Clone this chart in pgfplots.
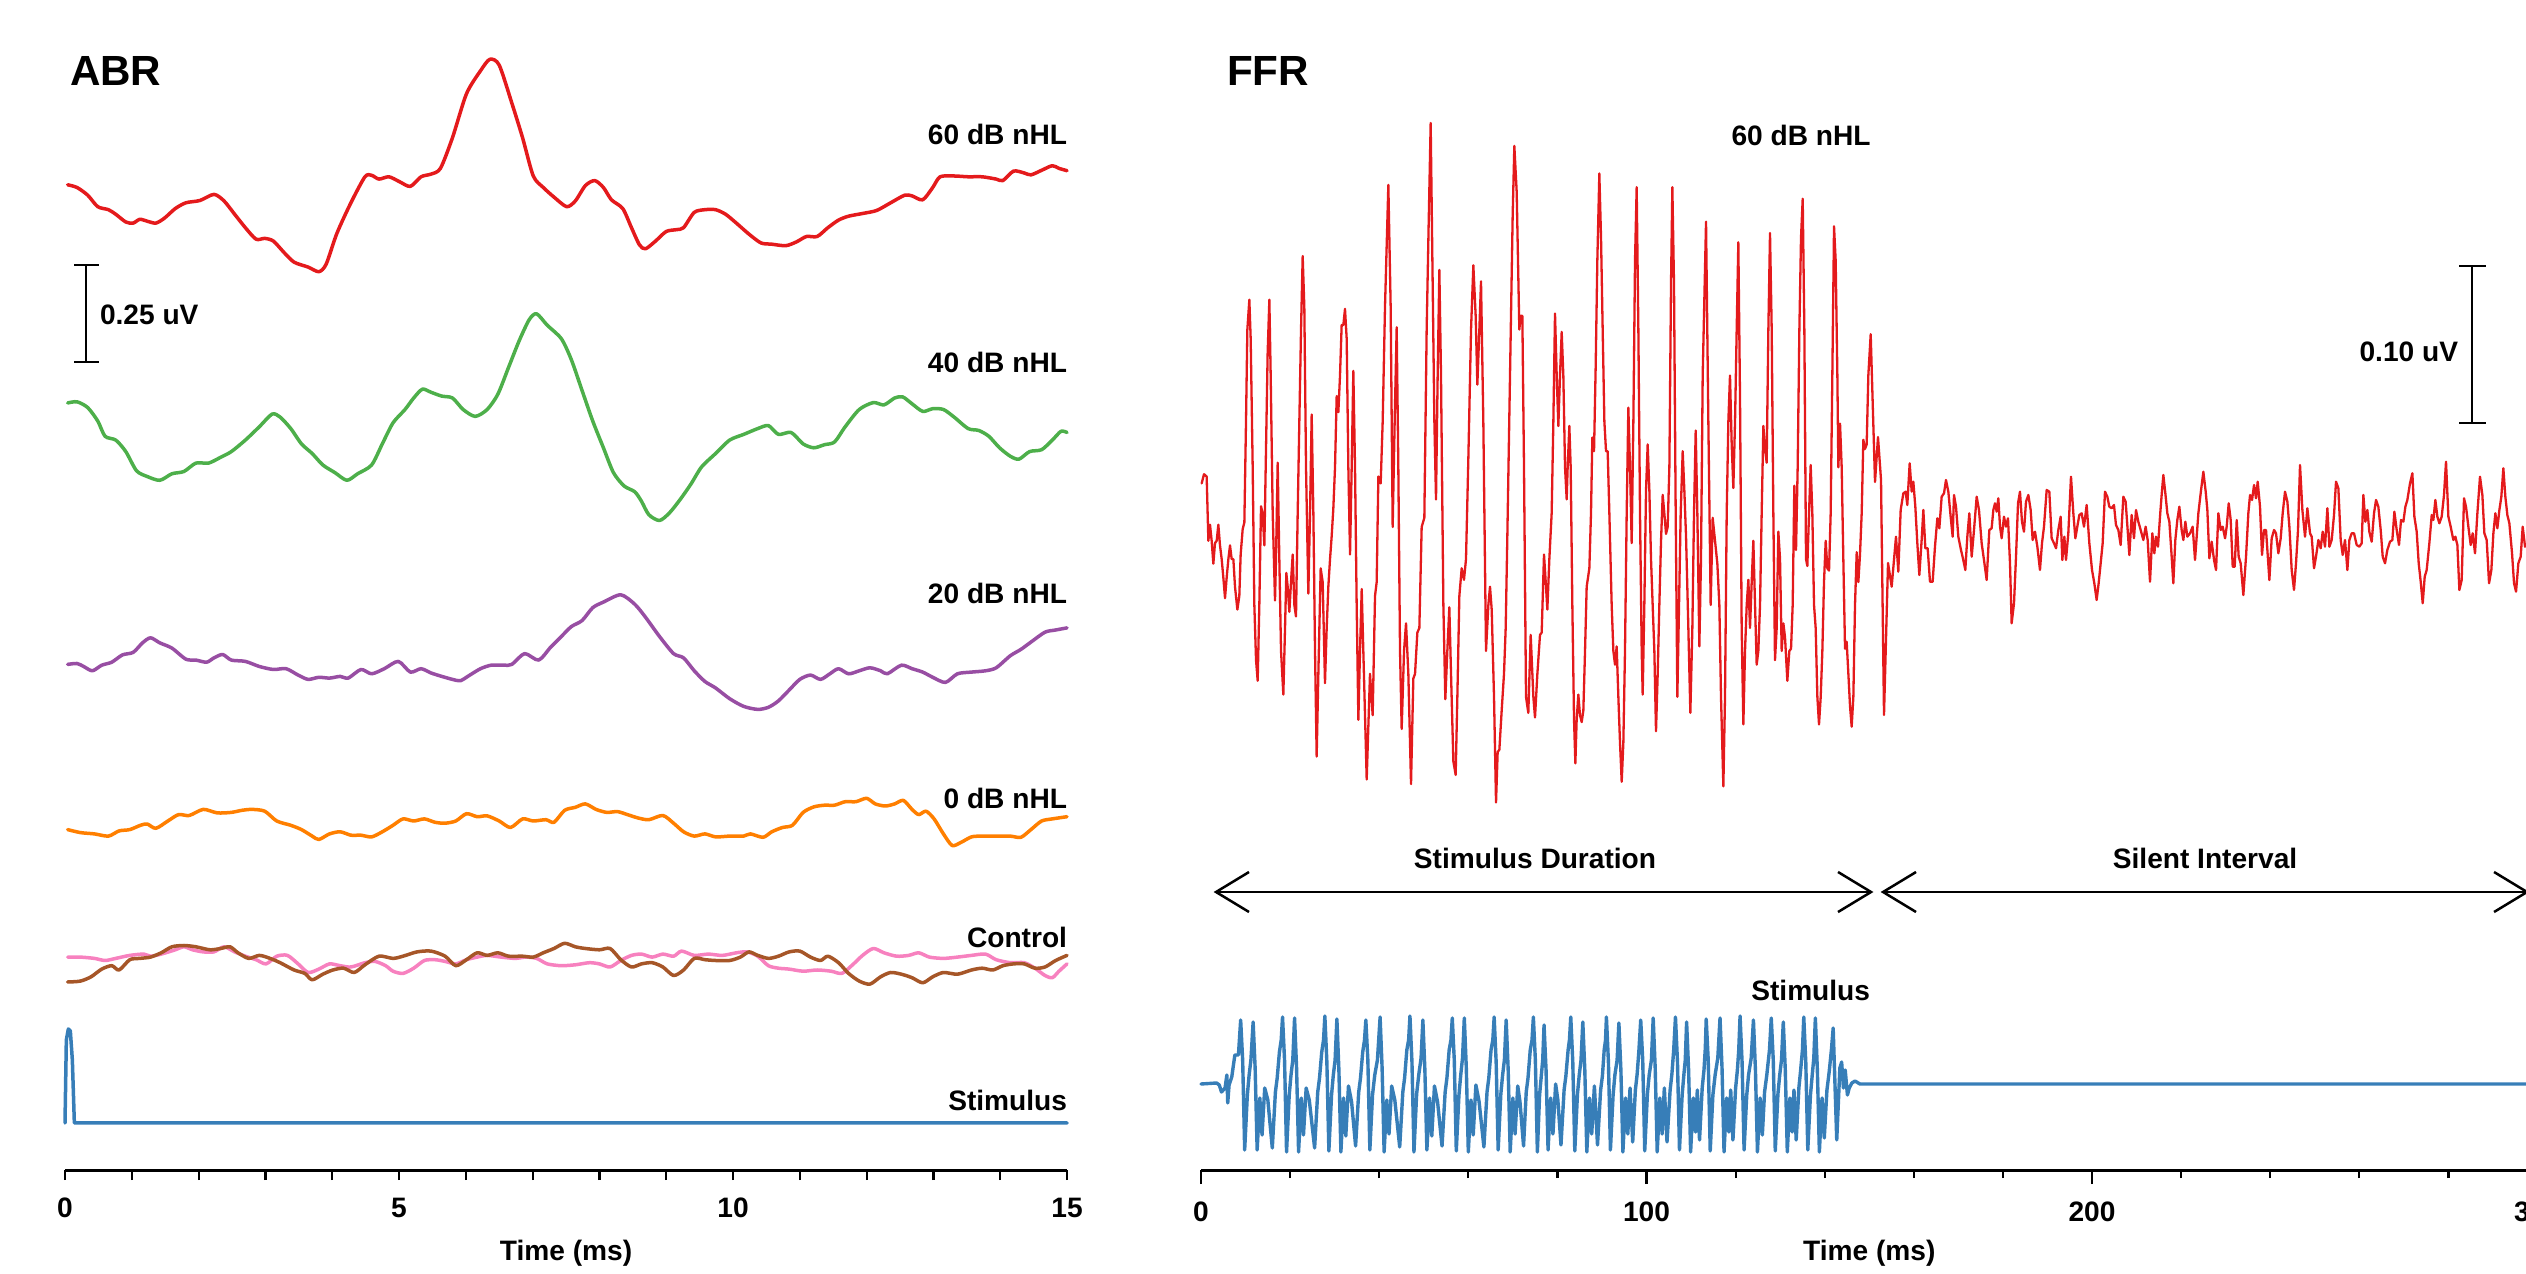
\documentclass[border=0pt]{standalone}
\usepackage{fontspec}
\setmainfont{Liberation Sans}
\usepackage{pgfplots}
\pgfplotsset{compat=1.18}
\definecolor{sred}{HTML}{E41A1C}
\definecolor{sblue}{HTML}{377EB8}
\definecolor{sgreen}{HTML}{4DAF4A}
\definecolor{spurple}{HTML}{984EA3}
\definecolor{sorange}{HTML}{FF7F00}
\definecolor{sbrown}{HTML}{A65628}
\definecolor{spink}{HTML}{F781BF}
\begin{document}
\begin{tikzpicture}
\pgfplotsset{
  myax/.style={scale only axis, height=117mm, ymin=-1170, ymax=0,
    hide y axis, axis x line*=bottom, clip=false,
    x axis line style={line width=0.3mm,-},
    tick align=outside, xtick pos=left,
    every tick/.style={black, line width=0.22mm},
    /pgf/number format/assume math mode=true,
    xticklabel style={font=\fontsize{8}{9.6}\selectfont\bfseries, anchor=base, yshift=-3.75mm},
    xlabel={Time (ms)},
    xlabel style={font=\fontsize{8}{9.6}\selectfont\bfseries, at={(axis description cs:0.5,0)}, anchor=base, yshift=-9.0mm},
    every axis plot/.append style={line join=round, line cap=round}},
  abr/.style={line width=0.35mm, smooth, tension=0.45},
}
% ---------------- ABR ----------------
\begin{axis}[myax, at={(6.5mm,10.3mm)}, anchor=south west, width=100.2mm,
  xmin=0, xmax=15, xtick={0,5,10,15}, minor xtick={1,2,3,4,6,7,8,9,11,12,13,14},
  major tick length=1.0mm, minor tick length=1.0mm]
% 60 dB nHL
\addplot[sred, abr] table[x index=0, y expr=-\thisrowno{1}] {
0.04 184.8
0.18 187.5
0.34 195.2
0.49 206.7
0.65 209.7
0.76 214.3
0.91 222.0
1.02 223.1
1.12 219.3
1.23 221.2
1.36 223.1
1.49 218.1
1.65 208.6
1.81 202.8
2.02 200.5
2.23 194.4
2.38 200.9
2.54 214.3
2.70 227.7
2.86 239.2
2.99 238.4
3.12 241.1
3.28 252.6
3.43 262.2
3.64 267.1
3.80 271.7
3.91 264.1
4.07 233.4
4.28 202.8
4.49 176.8
4.59 175.3
4.70 179.1
4.85 176.8
5.01 181.8
5.17 186.4
5.33 176.8
5.48 174.1
5.62 168.4
5.80 137.8
6.01 93.8
6.22 70.8
6.36 59.3
6.50 65.1
6.69 103.3
6.85 137.8
7.01 176.0
7.16 187.5
7.32 197.1
7.51 206.7
7.64 200.9
7.79 185.6
7.93 180.6
8.06 187.5
8.18 199.8
8.35 208.6
8.48 227.7
8.60 244.9
8.69 248.8
8.84 241.1
9.00 231.5
9.16 229.6
9.26 227.7
9.42 212.4
9.58 209.7
9.74 209.7
9.89 214.3
10.05 223.1
10.24 234.2
10.42 243.0
10.58 244.2
10.79 245.7
10.95 241.9
11.10 236.5
11.26 236.5
11.42 227.7
11.58 220.1
11.73 216.2
11.94 213.5
12.15 210.5
12.36 202.8
12.57 195.2
12.68 195.9
12.84 199.8
12.99 187.5
13.10 176.8
13.31 176.0
13.52 176.8
13.73 176.8
13.94 179.1
14.04 180.6
14.20 171.1
14.36 173.0
14.46 174.9
14.62 170.3
14.78 165.7
14.88 168.4
15.00 170.7
};
% 40 dB nHL
\addplot[sgreen, abr] table[x index=0, y expr=-\thisrowno{1}] {
0.04 403.0
0.18 401.8
0.34 407.6
0.49 421.0
0.60 436.3
0.76 440.1
0.91 451.6
1.07 470.7
1.23 476.5
1.42 480.3
1.60 473.8
1.78 471.5
1.96 463.1
2.15 463.1
2.33 457.3
2.49 451.6
2.70 440.1
2.91 426.7
3.10 414.1
3.22 417.1
3.38 428.6
3.54 443.9
3.70 453.5
3.86 465.0
4.04 472.6
4.22 480.3
4.38 473.8
4.59 465.0
4.75 443.9
4.91 422.9
5.09 409.5
5.22 398.0
5.35 389.2
5.48 392.3
5.64 396.1
5.80 398.0
5.96 409.5
6.14 416.4
6.32 409.5
6.48 394.2
6.64 367.4
6.80 340.6
6.95 319.6
7.06 313.8
7.22 325.3
7.43 338.7
7.58 359.7
7.74 390.4
7.90 421.0
8.06 447.8
8.21 472.6
8.37 486.0
8.53 491.8
8.63 501.3
8.74 514.7
8.90 520.5
9.05 512.8
9.21 499.4
9.37 484.1
9.53 466.9
9.74 453.5
9.95 440.1
10.16 434.4
10.37 428.6
10.53 425.6
10.68 434.4
10.87 432.5
11.05 443.9
11.21 447.8
11.37 444.7
11.52 442.0
11.68 426.7
11.89 409.5
12.10 402.6
12.26 404.9
12.42 398.0
12.54 396.9
12.68 403.8
12.84 411.4
12.99 408.7
13.15 409.5
13.31 417.1
13.52 428.6
13.68 430.5
13.83 436.3
13.99 447.8
14.15 456.2
14.28 459.2
14.44 451.6
14.62 449.7
14.78 440.1
14.91 431.3
15.00 432.5
};
% 20 dB nHL
\addplot[spurple, abr] table[x index=0, y expr=-\thisrowno{1}] {
0.04 664.4
0.18 663.5
0.28 666.5
0.41 670.8
0.55 665.2
0.70 662.2
0.86 654.9
1.02 652.4
1.16 642.9
1.28 637.8
1.42 642.9
1.60 648.1
1.81 659.2
1.96 660.1
2.12 662.2
2.23 657.9
2.36 654.5
2.49 660.1
2.70 661.4
2.91 666.5
3.12 669.5
3.31 668.7
3.49 675.1
3.64 679.4
3.80 677.3
3.96 678.1
4.12 676.4
4.24 678.1
4.43 669.5
4.59 673.8
4.78 668.7
4.99 661.4
5.17 672.1
5.33 668.7
5.48 673.0
5.64 676.4
5.80 679.4
5.92 680.7
6.06 675.1
6.22 668.7
6.38 665.2
6.57 665.2
6.69 664.4
6.88 653.6
7.09 660.1
7.27 647.2
7.43 636.5
7.58 626.6
7.74 620.6
7.90 607.7
8.06 602.1
8.32 594.8
8.53 604.3
8.69 617.2
8.90 636.5
9.11 653.6
9.26 657.9
9.42 670.8
9.58 681.5
9.74 688.0
9.95 698.7
10.16 706.4
10.37 709.4
10.53 707.3
10.68 700.9
10.84 690.1
11.00 679.4
11.16 675.1
11.31 679.4
11.45 673.8
11.58 668.7
11.73 673.8
11.89 670.8
12.05 667.8
12.21 670.8
12.31 673.8
12.52 665.2
12.68 668.7
12.84 672.1
12.99 677.3
13.18 682.4
13.36 673.8
13.57 672.1
13.78 670.8
13.94 667.8
14.15 655.8
14.31 649.4
14.46 642.1
14.67 632.2
14.83 630.0
15.00 627.9
};
% 0 dB nHL
\addplot[sorange, abr] table[x index=0, y expr=-\thisrowno{1}] {
0.04 829.6
0.23 832.6
0.44 833.9
0.65 836.1
0.81 830.9
0.97 829.6
1.13 825.3
1.23 824.0
1.36 828.3
1.54 821.0
1.70 814.6
1.86 815.5
2.07 809.4
2.28 812.9
2.49 812.4
2.65 810.3
2.80 809.4
2.99 811.2
3.17 821.0
3.38 825.3
3.54 829.6
3.70 836.1
3.80 839.5
3.96 833.9
4.12 831.8
4.28 835.2
4.43 835.2
4.59 836.9
4.75 831.8
4.91 825.3
5.06 818.9
5.22 821.0
5.38 818.9
5.54 822.3
5.69 823.2
5.85 821.0
6.01 813.7
6.17 816.7
6.32 815.9
6.50 821.0
6.67 827.5
6.85 818.9
7.01 821.0
7.20 819.7
7.32 822.3
7.48 810.3
7.64 807.3
7.79 803.9
7.95 809.4
8.11 812.4
8.27 811.6
8.42 814.6
8.58 818.0
8.74 819.7
8.95 815.5
9.11 823.2
9.26 831.8
9.42 836.1
9.58 833.9
9.74 836.9
9.95 836.1
10.16 836.1
10.26 833.9
10.45 837.3
10.58 831.8
10.74 827.5
10.89 825.3
11.05 812.4
11.21 806.9
11.37 805.2
11.52 805.2
11.68 801.7
11.84 801.7
12.00 798.3
12.13 803.9
12.28 806.0
12.42 803.9
12.55 800.4
12.68 809.4
12.78 814.6
12.89 811.2
13.01 818.9
13.15 833.9
13.28 845.5
13.41 842.5
13.57 836.9
13.73 836.1
13.94 836.1
14.15 836.1
14.31 837.3
14.46 829.6
14.62 821.0
14.78 818.9
15.00 816.7
};
% Control (pink)
\addplot[spink, abr] table[x index=0, y expr=-\thisrowno{1}] {
0.04 957.1
0.23 957.1
0.44 958.4
0.60 960.5
0.76 958.4
0.97 955.4
1.18 954.1
1.28 956.2
1.44 954.1
1.65 949.8
1.78 946.8
1.91 949.8
2.07 951.9
2.23 951.9
2.38 946.8
2.54 951.9
2.70 956.2
2.86 959.7
3.01 963.9
3.17 956.2
3.33 955.4
3.49 963.9
3.64 972.5
3.80 969.1
3.96 963.9
4.12 965.7
4.28 967.0
4.49 962.7
4.64 961.4
4.80 965.7
4.91 971.2
5.06 973.4
5.22 968.2
5.38 960.5
5.54 959.7
5.69 961.4
5.85 963.9
6.01 959.7
6.17 957.1
6.32 955.4
6.53 957.1
6.74 958.4
6.90 957.1
7.06 958.4
7.22 963.9
7.43 965.7
7.64 964.8
7.85 962.7
8.00 963.9
8.16 967.0
8.32 960.5
8.48 955.4
8.63 954.1
8.79 957.1
8.95 954.1
9.11 956.2
9.23 951.1
9.42 955.4
9.63 954.1
9.84 955.4
10.05 952.8
10.21 951.9
10.37 956.2
10.53 965.7
10.68 968.2
10.84 969.1
11.05 971.2
11.26 970.0
11.47 971.2
11.63 973.4
11.79 964.8
11.94 955.4
12.10 948.5
12.26 952.8
12.45 956.2
12.63 955.4
12.78 952.8
12.94 957.1
13.15 958.4
13.36 957.1
13.57 955.4
13.78 954.1
13.94 959.7
14.15 962.7
14.36 962.7
14.52 968.2
14.67 975.5
14.78 977.7
14.88 971.2
15.00 963.9
};
% Control (brown)
\addplot[sbrown, abr] table[x index=0, y expr=-\thisrowno{1}] {
0.04 982.0
0.23 981.1
0.39 976.8
0.55 969.1
0.70 965.7
0.81 970.0
0.97 959.7
1.12 958.4
1.28 957.1
1.44 952.8
1.60 946.8
1.78 945.5
1.96 946.8
2.17 949.8
2.33 948.5
2.47 946.8
2.59 952.8
2.75 958.4
2.91 955.4
3.07 958.4
3.22 962.7
3.43 970.0
3.59 973.4
3.70 979.8
3.86 974.2
4.01 970.0
4.17 968.2
4.33 972.5
4.49 964.8
4.70 956.2
4.91 958.4
5.06 956.2
5.27 951.9
5.48 951.1
5.69 956.2
5.85 965.7
6.01 959.7
6.17 952.8
6.32 955.4
6.48 952.8
6.64 956.2
6.85 956.2
7.01 957.1
7.16 952.8
7.32 948.5
7.48 943.3
7.64 946.8
7.79 948.5
8.00 949.8
8.16 948.5
8.32 959.7
8.48 967.0
8.63 963.9
8.79 962.7
8.95 967.0
9.11 975.5
9.26 970.0
9.42 958.4
9.58 959.7
9.74 960.5
9.95 960.5
10.11 957.1
10.24 951.9
10.37 955.4
10.53 958.4
10.68 956.2
10.84 951.9
11.00 951.1
11.16 957.1
11.31 960.5
11.42 956.2
11.58 962.7
11.73 973.4
11.89 981.1
12.05 984.1
12.21 976.8
12.36 972.5
12.52 974.2
12.68 977.7
12.84 982.8
12.99 976.8
13.15 972.5
13.36 974.2
13.57 970.0
13.73 968.2
13.89 970.0
14.04 965.7
14.20 963.9
14.36 963.9
14.52 968.2
14.67 967.0
14.83 960.5
15.00 955.4
};
% Stimulus (click)
\addplot[sblue, line width=0.35mm] table[x index=0, y expr=-\thisrowno{1}] {
0.00 1123
0.02 1040
0.05 1029
0.08 1031
0.11 1060
0.14 1123
15.00 1123
};
\end{axis}
% ---------------- FFR ----------------
\begin{axis}[myax, at={(120.1mm,10.3mm)}, anchor=south west, width=133.65mm,
  xmin=0, xmax=300, xtick={0,100,200,300},
  minor xtick={20,40,60,80,120,140,160,180,220,240,260,280},
  major tick length=1.4mm, minor tick length=0.8mm]
\addplot[sred, line width=0.23mm] table[x index=0, y expr=-\thisrowno{1}] {
0.15 483.4
0.67 474.2
1.27 476.5
1.65 540.8
2.02 524.7
2.39 540.8
2.77 563.7
3.14 543.1
3.52 540.8
3.89 524.7
4.26 545.4
4.64 559.1
5.01 577.5
5.39 598.2
5.76 577.5
6.14 559.1
6.51 545.4
6.88 559.1
7.26 559.1
7.63 586.7
8.16 609.6
8.60 595.9
8.90 554.5
9.35 529.3
9.73 522.4
10.10 421.4
10.40 329.6
10.85 299.7
11.15 338.8
11.60 467.3
11.97 605.0
12.35 660.1
12.72 680.8
13.09 605.0
13.47 506.3
13.84 513.2
14.22 545.4
14.59 448.9
14.96 352.5
15.34 299.7
15.64 375.5
16.09 513.2
16.61 600.5
16.83 559.1
17.21 462.7
17.58 559.1
17.96 651.0
18.48 694.6
18.86 628.0
19.15 572.9
19.45 586.7
19.83 611.9
20.20 582.1
20.58 554.5
20.95 605.0
21.32 616.5
21.70 513.2
22.07 421.4
22.45 329.6
22.82 256.1
23.19 306.6
23.57 467.3
24.09 593.6
24.47 513.2
24.84 414.5
25.22 513.2
25.59 651.0
25.96 756.6
26.34 673.9
26.86 568.3
27.31 582.1
27.83 683.1
28.21 628.0
28.58 586.7
28.96 559.1
29.33 536.2
29.70 508.6
30.08 467.3
30.45 396.1
30.83 412.2
31.20 375.5
31.57 325.0
31.95 325.0
32.32 308.9
32.70 338.8
33.07 467.3
33.45 554.5
33.82 467.3
34.19 370.9
34.57 467.3
34.94 605.0
35.32 719.8
35.69 651.0
36.07 589.0
37.19 779.5
37.93 673.9
38.53 715.2
39.06 595.9
39.43 582.1
39.81 476.5
40.33 483.4
40.78 421.4
41.30 306.6
42.05 184.9
42.57 306.6
43.02 527.0
43.47 421.4
43.92 327.3
44.29 467.3
44.67 651.0
45.04 729.0
45.57 651.0
46.02 623.4
46.54 673.9
47.14 784.1
47.66 678.5
48.04 673.9
48.56 632.6
49.01 628.0
49.53 527.0
50.13 517.8
50.65 329.6
51.10 224.0
51.55 123.0
52.00 283.7
52.38 421.4
52.75 499.4
53.12 375.5
53.50 269.9
53.87 375.5
54.40 605.0
54.84 699.2
55.29 651.0
55.74 607.3
56.12 673.9
56.64 761.2
57.16 774.9
57.54 696.9
57.99 595.9
58.51 568.3
59.03 579.8
59.48 559.1
60.01 458.1
60.61 329.6
61.13 265.3
61.65 315.8
62.03 384.7
62.48 329.6
62.85 281.4
63.37 421.4
63.97 651.0
64.50 605.0
64.87 586.7
65.25 609.6
65.77 696.9
66.22 802.5
66.59 752.0
66.97 749.7
67.49 710.6
68.01 673.9
68.39 628.0
68.76 536.2
69.36 375.5
69.96 214.8
70.33 145.9
70.86 191.8
71.45 329.6
71.75 315.8
72.13 315.8
72.50 467.3
72.95 696.9
73.47 712.9
74.00 634.9
74.60 696.9
74.97 717.5
75.50 673.9
76.09 634.9
76.47 632.6
76.99 554.5
77.44 586.7
77.74 609.6
78.19 559.1
78.71 513.2
79.09 421.4
79.46 313.5
79.84 375.5
80.21 426.0
80.58 375.5
80.96 331.9
81.33 375.5
81.71 467.3
82.08 499.4
82.30 467.3
82.68 426.0
82.98 467.3
83.35 605.0
83.73 719.8
84.03 763.4
84.32 719.8
84.70 694.6
85.07 715.2
85.45 722.1
85.82 710.6
86.20 651.0
86.57 586.7
87.17 568.3
87.54 513.2
87.84 437.5
88.22 451.2
88.59 366.3
88.96 260.7
89.41 173.5
89.79 237.7
90.16 329.6
90.54 421.4
90.91 451.2
91.28 451.2
91.66 513.2
92.18 605.0
92.56 651.0
92.93 664.7
93.30 646.4
93.68 696.9
94.05 742.8
94.43 781.8
94.80 742.8
95.17 651.0
95.55 513.2
95.92 407.6
96.30 467.3
96.67 543.1
97.05 421.4
97.42 260.7
97.79 187.2
98.17 329.6
98.54 513.2
98.92 651.0
99.14 694.6
99.51 605.0
99.89 490.3
100.26 444.4
100.64 490.3
101.01 559.1
101.38 605.0
101.76 651.0
102.13 731.3
102.51 673.9
102.88 605.0
103.26 540.8
103.63 494.9
104.00 513.2
104.38 533.9
104.75 527.0
105.13 467.3
105.50 283.7
105.80 187.2
106.17 283.7
106.55 513.2
106.92 696.9
107.30 605.0
107.67 513.2
108.12 451.2
108.49 490.3
108.87 536.2
109.39 628.0
109.84 712.9
110.29 628.0
110.66 513.2
111.04 430.6
111.41 513.2
111.86 646.4
112.23 559.1
112.61 375.5
113.36 221.7
113.88 421.4
114.40 605.0
114.85 517.8
115.38 540.8
115.90 563.7
116.35 605.0
116.72 696.9
117.25 786.4
117.62 696.9
118.00 513.2
118.37 421.4
118.74 375.5
119.12 444.4
119.49 488.0
119.87 421.4
120.24 329.6
120.61 242.3
120.99 398.4
121.36 628.0
121.74 724.4
122.11 651.0
122.49 605.0
122.86 579.8
123.23 628.0
123.61 582.1
123.98 540.8
124.36 605.0
124.73 664.7
125.10 651.0
125.48 605.0
125.85 513.2
126.23 426.0
126.60 448.9
126.97 462.7
127.35 329.6
127.72 233.1
128.10 329.6
128.47 513.2
128.84 660.1
129.22 628.0
129.59 531.6
129.97 559.1
130.34 651.0
130.72 623.4
131.09 637.2
131.61 680.8
132.06 651.0
132.44 648.7
132.81 605.0
133.18 485.7
133.56 550.0
133.93 467.3
134.31 329.6
134.68 237.7
135.06 198.7
135.43 329.6
135.80 559.1
136.10 566.0
136.48 513.2
136.85 465.0
137.22 513.2
137.60 605.0
137.97 628.0
138.35 696.9
138.72 724.4
139.10 696.9
139.47 651.0
139.84 582.1
140.22 540.8
140.59 568.3
140.97 570.6
141.34 513.2
141.71 375.5
142.09 226.3
142.46 260.7
142.84 375.5
143.06 467.3
143.44 423.7
143.81 467.3
144.18 559.1
144.56 648.7
144.93 641.8
145.31 673.9
145.68 706.1
146.05 726.7
146.43 696.9
146.80 605.0
147.18 552.2
147.55 582.1
147.92 554.5
148.30 513.2
148.67 439.8
149.05 448.9
149.42 444.4
149.79 375.5
150.32 334.2
151.29 482.0
151.96 437.0
152.64 480.0
153.31 715.0
154.21 563.0
155.03 586.7
156.00 536.7
156.52 571.7
157.05 510.0
157.65 493.3
158.17 491.7
158.54 505.0
159.07 463.3
159.52 491.7
159.89 481.7
160.34 506.7
160.79 543.3
161.24 575.0
161.76 540.0
162.14 510.0
162.59 548.3
163.11 548.3
163.63 581.7
164.23 581.7
164.75 546.7
165.28 518.3
165.73 528.3
166.25 496.7
166.78 493.3
167.22 480.0
167.75 491.7
168.27 516.7
168.72 536.7
169.02 495.0
169.47 506.7
169.99 536.7
170.59 550.0
171.11 560.0
171.56 570.0
172.01 536.7
172.46 513.3
172.99 556.7
173.51 530.0
174.11 496.7
174.63 510.0
175.23 543.3
175.75 560.0
176.35 580.0
176.95 530.0
177.47 528.3
177.85 510.0
178.22 503.3
178.60 511.7
178.97 498.3
179.35 526.7
179.72 538.3
180.24 516.7
180.69 526.7
181.14 518.3
181.59 563.3
181.96 623.3
182.49 603.3
182.94 556.7
183.39 503.3
183.83 491.7
184.28 521.7
184.73 531.7
185.18 501.7
185.71 495.0
186.23 510.0
186.68 540.0
187.20 531.7
187.73 546.7
188.32 570.0
188.77 543.3
189.22 526.7
189.82 490.0
190.42 491.7
190.94 538.3
191.47 543.3
191.92 548.3
192.44 530.0
192.96 516.7
193.34 560.0
193.79 536.7
194.16 560.0
194.68 533.3
195.28 476.7
195.81 513.3
196.26 538.3
196.70 526.7
197.15 515.0
197.68 513.3
198.20 526.7
198.80 505.0
199.40 543.3
200.00 570.0
200.52 583.3
201.04 600.0
201.49 583.3
201.94 563.3
202.39 543.3
202.91 491.7
203.44 496.7
203.89 506.7
204.41 508.3
204.93 505.0
205.38 525.0
205.91 530.0
206.43 545.0
207.03 496.7
207.55 501.7
208.00 530.0
208.38 555.0
208.90 515.0
209.42 538.3
209.87 510.0
210.40 521.7
210.92 530.0
211.52 540.0
212.04 526.7
212.49 540.0
213.02 581.7
213.54 533.3
213.99 553.3
214.36 536.7
214.81 546.7
215.26 516.7
215.63 495.0
216.01 475.0
216.46 493.3
216.91 513.3
217.36 521.7
217.88 556.7
218.25 583.3
218.70 540.0
219.15 520.0
219.60 506.7
220.12 530.0
220.50 540.0
220.95 521.7
221.40 536.7
222.00 533.3
222.59 526.7
223.12 560.0
223.87 513.3
224.39 493.3
224.99 471.7
225.52 491.7
225.89 510.0
226.34 558.3
226.86 541.7
227.39 560.0
227.84 570.0
228.36 513.3
228.88 530.0
229.33 526.7
229.86 538.3
230.23 526.7
230.68 503.3
231.13 520.0
231.58 566.7
232.03 566.7
232.48 520.0
232.92 556.7
233.37 563.3
233.97 595.0
234.57 556.7
235.09 513.3
235.47 495.0
235.92 500.0
236.37 485.0
236.81 498.3
237.19 481.7
237.71 506.7
238.16 555.0
238.61 530.0
239.06 530.0
239.81 580.0
240.33 538.3
240.86 530.0
241.30 533.3
241.83 553.3
242.35 538.3
242.80 513.3
243.32 491.7
243.85 501.7
244.30 526.7
244.82 570.0
245.34 590.0
245.79 563.3
246.24 530.0
246.69 465.0
247.22 510.0
247.81 536.7
248.34 508.3
248.94 533.3
249.31 536.7
249.83 568.3
250.28 556.7
250.81 540.0
251.33 548.3
251.78 531.7
252.30 546.7
252.83 508.3
253.28 546.7
253.80 540.0
254.32 515.0
254.77 481.7
255.30 488.3
255.82 540.0
256.27 555.0
256.79 540.0
257.32 570.0
257.77 540.0
258.29 533.3
258.81 533.3
259.41 545.0
260.01 546.7
260.53 543.3
260.91 495.0
261.36 521.7
261.81 510.0
262.25 531.7
262.78 541.7
263.30 513.3
263.75 500.0
264.27 506.7
264.80 530.0
265.25 556.7
265.77 563.3
266.29 550.0
266.89 541.7
267.42 540.0
267.87 511.7
268.39 530.0
268.91 545.0
269.36 520.0
269.89 521.7
270.34 506.7
270.78 500.0
271.38 483.3
271.91 473.3
272.36 516.7
272.88 531.7
273.33 563.3
273.78 581.7
274.23 603.3
274.68 576.7
275.12 570.0
275.72 543.3
276.25 515.0
276.62 520.0
277.07 500.0
277.52 516.7
277.97 523.3
278.49 516.7
279.01 495.0
279.46 461.7
279.99 516.7
280.51 526.7
281.11 540.0
281.56 536.7
282.01 545.0
282.46 590.0
282.98 580.0
283.50 498.3
283.95 506.7
284.48 526.7
285.00 545.0
285.45 533.3
285.97 553.3
286.50 513.3
287.09 476.7
287.62 495.0
288.07 533.3
288.59 540.0
289.12 583.3
289.64 570.0
290.09 533.3
290.54 513.3
290.99 528.3
291.44 510.0
291.88 496.7
292.33 468.3
292.78 496.7
293.23 515.0
293.68 523.3
294.28 553.3
294.73 583.3
295.18 591.7
295.70 563.3
296.22 556.7
296.67 526.7
297.20 546.7
300.00 530.0
};
% Stimulus waveform
\addplot[sblue, line width=0.34mm] table[x index=0, y expr=-\thisrowno{1}] {
0.0 1084
3.5 1083
4.1 1085
4.6 1092
5.4 1088
5.8 1075
6.0 1103
6.3 1085
6.9 1077
7.6 1055
8.4 1055
8.9 1020
9.35 1060
9.8 1150
10.4 1095
10.8 1075
11.2 1060
11.7 1022
12.15 1068
12.6 1150
13.2 1098
13.7 1135
14.3 1088
15.0 1100
16.0 1148
16.7 1092
17.1 1078
17.6 1052
18.0 1040
18.3 1017
18.75 1060
19.2 1152
19.8 1095
20.2 1075
20.6 1060
21.0 1018
21.45 1068
21.9 1152
22.5 1098
23.0 1135
23.6 1088
24.3 1100
25.5 1148
26.2 1092
26.6 1078
27.1 1052
27.5 1040
27.8 1016
28.25 1062
28.7 1151
29.3 1095
29.7 1075
30.1 1060
30.5 1019
30.95 1070
31.4 1152
32.0 1098
32.5 1136
33.1 1086
33.8 1102
34.7 1146
35.4 1092
35.8 1078
36.3 1052
36.7 1040
37.0 1020
37.45 1060
37.9 1150
38.5 1095
39.0 1075
39.6 1060
40.2 1017
40.65 1068
41.1 1152
41.7 1100
42.2 1134
42.8 1086
43.5 1100
44.6 1147
45.3 1092
45.7 1078
46.2 1050
46.6 1040
46.9 1016
47.35 1062
47.8 1152
48.4 1094
48.9 1074
49.4 1058
49.8 1020
50.25 1070
50.7 1150
51.3 1098
51.8 1136
52.4 1086
53.1 1102
54.1 1146
54.8 1092
55.2 1078
55.7 1050
56.1 1040
56.4 1018
56.85 1060
57.3 1151
57.9 1095
58.3 1075
58.7 1058
59.1 1018
59.55 1068
60.0 1152
60.6 1100
61.1 1135
61.7 1085
62.4 1101
63.5 1147
64.2 1092
64.6 1078
65.1 1050
65.5 1040
65.8 1017
66.25 1062
66.7 1150
67.3 1094
67.7 1075
68.1 1060
68.5 1020
68.95 1070
69.4 1152
70.0 1098
70.5 1134
71.1 1086
71.6 1102
72.4 1146
73.0 1092
73.4 1078
73.9 1050
74.3 1040
74.6 1017
75.05 1060
75.5 1152
76.0 1095
76.4 1075
76.7 1060
77.0 1025
77.45 1070
77.9 1150
78.5 1098
79.0 1134
79.6 1084
80.1 1100
80.8 1145
81.5 1090
81.9 1076
82.4 1050
82.7 1040
83.0 1017
83.45 1062
83.9 1151
84.5 1094
84.9 1075
85.3 1060
85.7 1022
86.15 1070
86.6 1152
87.2 1098
87.7 1134
88.3 1086
89.0 1145
89.7 1090
90.1 1076
90.5 1050
90.8 1040
91.0 1017
91.45 1062
91.9 1150
92.5 1095
92.9 1075
93.4 1060
93.8 1023
94.25 1070
94.7 1152
95.3 1098
95.8 1134
96.3 1088
96.9 1142
97.5 1090
97.9 1074
98.3 1050
98.7 1020
99.15 1060
99.6 1151
100.2 1094
100.6 1075
101.1 1060
101.5 1018
101.95 1068
102.4 1152
103.0 1098
103.5 1134
104.0 1088
104.6 1142
105.3 1090
105.7 1074
106.1 1050
106.5 1017
106.95 1062
107.4 1150
108.0 1095
108.4 1074
108.7 1060
109.0 1022
109.45 1070
109.9 1152
110.5 1098
111.0 1132
111.4 1090
111.9 1140
112.5 1088
112.9 1070
113.2 1048
113.4 1019
113.85 1060
114.3 1151
114.9 1095
115.4 1075
116.0 1058
116.5 1018
116.95 1068
117.4 1152
118.0 1098
118.5 1132
118.9 1090
119.4 1140
120.0 1088
120.4 1070
120.7 1050
121.0 1016
121.45 1062
121.9 1150
122.5 1095
122.9 1075
123.5 1058
124.0 1020
124.45 1070
124.9 1152
125.5 1098
126.0 1135
126.5 1092
127.0 1075
127.6 1050
128.0 1018
128.45 1060
128.9 1151
129.5 1094
129.9 1075
130.3 1060
130.7 1022
131.15 1070
131.6 1152
132.2 1098
132.7 1132
133.1 1090
133.6 1140
134.2 1088
134.6 1070
135.0 1050
135.3 1017
135.75 1062
136.2 1150
136.8 1095
137.2 1075
137.55 1058
137.9 1018
138.35 1070
138.8 1152
139.4 1098
139.9 1138
140.5 1090
141.0 1072
141.5 1050
141.9 1028
142.7 1140
143.4 1068
143.8 1062
144.2 1088
144.6 1070
145.1 1095
145.5 1088
146.1 1083
146.8 1081
147.9 1084
300.0 1084
};
\end{axis}
% ---------------- annotations ----------------
\begin{scope}[shift={(0,127.3mm)}, x=0.1mm, y=-0.1mm,
  font=\fontsize{8}{9.6}\selectfont\bfseries]
\tikzset{every node/.style={inner sep=0pt, outer sep=0pt}}
\node[anchor=base west, font=\fontsize{12}{14}\selectfont\bfseries] at (70,86) {ABR};
\node[anchor=base west, font=\fontsize{12}{14}\selectfont\bfseries] at (1227,86) {FFR};
\node[anchor=base east] at (1067,145) {60 dB nHL};
\node[anchor=base east] at (1067,373) {40 dB nHL};
\node[anchor=base east] at (1067,604) {20 dB nHL};
\node[anchor=base east] at (1067,808) {0 dB nHL};
\node[anchor=base east] at (1067,947) {Control};
\node[anchor=base east] at (1067,1110) {Stimulus};
\node[anchor=base west] at (100,325) {0.25 uV};
\draw[line width=0.28mm] (86,265)--(86,362) (74,265)--(99,265) (74,362)--(99,362);
\node[anchor=base] at (1801,146) {60 dB nHL};
\node[anchor=base east] at (2458,362) {0.10 uV};
\draw[line width=0.28mm] (2472,266)--(2472,423) (2459,266)--(2486,266) (2459,423)--(2486,423);
\node[anchor=base] at (1535,868) {Stimulus Duration};
\node[anchor=base] at (2205,868) {Silent Interval};
\node[anchor=base east] at (1870,1000) {Stimulus};
\draw[line width=0.28mm] (1216,892)--(1871,892);
\draw[line width=0.25mm] (1249,872)--(1216,892)--(1249,912);
\draw[line width=0.25mm] (1838,872)--(1871,892)--(1838,912);
\draw[line width=0.28mm] (1883,892)--(2527,892);
\draw[line width=0.25mm] (1916,872)--(1883,892)--(1916,912);
\draw[line width=0.25mm] (2494,872)--(2527,892)--(2494,912);
\end{scope}
\pgfresetboundingbox
\path[use as bounding box] (0,0) rectangle (252.6mm,127.3mm);
\end{tikzpicture}
\end{document}
